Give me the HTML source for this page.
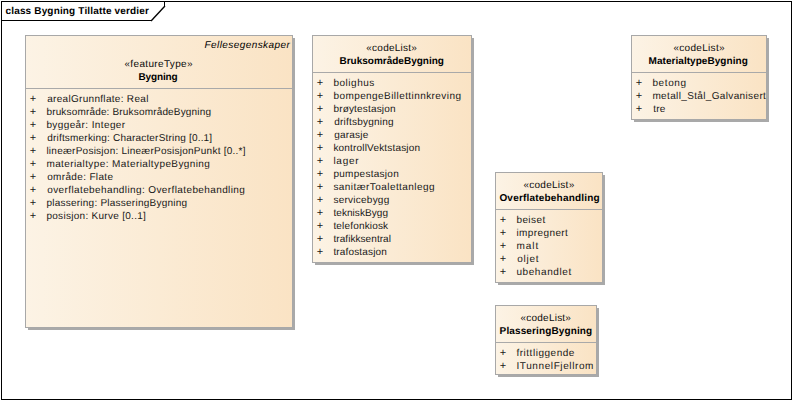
<!DOCTYPE html>
<html><head><meta charset="utf-8"><title>class Bygning Tillatte verdier</title>
<style>
html,body{margin:0;padding:0;background:#fff;}
body{width:792px;height:400px;position:relative;overflow:hidden;font-family:"Liberation Sans",sans-serif;font-size:10.00px;color:#1c1220;text-rendering:geometricPrecision;}
.abs{position:absolute;}
.frame{left:1px;top:1px;width:789px;height:397px;border:1px solid #000;}
.box{position:absolute;box-sizing:border-box;border:1px solid #a8a8a8;background:linear-gradient(to right,#fcf3e5,#fae3c4);}
.shadow{position:absolute;background:#a9a9a9;}
.sep{position:absolute;left:0;right:0;height:1px;background:#a9a9a9;}
.t{position:absolute;white-space:pre;line-height:13px;height:13px;}
.b{font-weight:bold;color:#000;}
.i{font-style:italic;color:#000;}
.r{color:#181818;}
.p{color:#181818;font-size:11px;}
.r2{color:#0a0a0a;}
svg{position:absolute;left:0;top:0;}
</style></head><body>
<div class="abs frame"></div>
<svg width="792" height="400" viewBox="0 0 792 400"><path d="M1.5 20.5 H151.5 M164.5 6.5 V1.5" fill="none" stroke="#000" stroke-width="1"/><path d="M151.5 20.5 L164.5 6.5" fill="none" stroke="#000" stroke-width="1.35" stroke-linecap="square"/></svg>

<div class="shadow" style="left:28px;top:38px;width:267px;height:292px"></div>
<div class="box" style="left:25px;top:35px;width:268px;height:293px">
<div class="sep" style="top:52px"></div>
</div>
<div class="shadow" style="left:315px;top:38px;width:159px;height:227px"></div>
<div class="box" style="left:312px;top:35px;width:160px;height:228px">
<div class="sep" style="top:36px"></div>
</div>
<div class="shadow" style="left:634px;top:38px;width:135px;height:84px"></div>
<div class="box" style="left:631px;top:35px;width:136px;height:85px">
<div class="sep" style="top:36px"></div>
</div>
<div class="shadow" style="left:498px;top:175px;width:107px;height:110px"></div>
<div class="box" style="left:495px;top:172px;width:108px;height:111px">
<div class="sep" style="top:36px"></div>
</div>
<div class="shadow" style="left:498px;top:308px;width:101px;height:69px"></div>
<div class="box" style="left:495px;top:305px;width:102px;height:70px">
<div class="sep" style="top:36px"></div>
</div>
<div id="title" class="t b" style="left:5.50px;top:5px;letter-spacing:0.160px">class Bygning Tillatte verdier</div>
<div id="b0tag" class="t i" style="left:204.50px;top:39px;letter-spacing:0.427px">Fellesegenskaper</div>
<div id="b0st" class="t r2" style="left:124.45px;top:58px;letter-spacing:0.350px">«featureType»</div>
<div id="b0name" class="t b" style="left:138.42px;top:71px;letter-spacing:-0.120px">Bygning</div>
<div id="b0p0" class="t p" style="left:29.86px;top:93px;letter-spacing:0.000px">+</div>
<div id="b0r0" class="t r" style="left:47.22px;top:93px;letter-spacing:0.304px">arealGrunnflate: Real</div>
<div id="b0p1" class="t p" style="left:29.86px;top:106px;letter-spacing:0.000px">+</div>
<div id="b0r1" class="t r" style="left:46.42px;top:106px;letter-spacing:0.169px">bruksområde: BruksområdeBygning</div>
<div id="b0p2" class="t p" style="left:29.86px;top:119px;letter-spacing:0.000px">+</div>
<div id="b0r2" class="t r" style="left:46.42px;top:119px;letter-spacing:0.392px">byggeår: Integer</div>
<div id="b0p3" class="t p" style="left:29.86px;top:132px;letter-spacing:0.000px">+</div>
<div id="b0r3" class="t r" style="left:47.22px;top:132px;letter-spacing:0.197px">driftsmerking: CharacterString [0..1]</div>
<div id="b0p4" class="t p" style="left:29.86px;top:145px;letter-spacing:0.000px">+</div>
<div id="b0r4" class="t r" style="left:46.42px;top:145px;letter-spacing:0.246px">lineærPosisjon: LineærPosisjonPunkt [0..*]</div>
<div id="b0p5" class="t p" style="left:29.86px;top:158px;letter-spacing:0.000px">+</div>
<div id="b0r5" class="t r" style="left:46.42px;top:158px;letter-spacing:0.402px">materialtype: MaterialtypeBygning</div>
<div id="b0p6" class="t p" style="left:29.86px;top:171px;letter-spacing:0.000px">+</div>
<div id="b0r6" class="t r" style="left:47.22px;top:171px;letter-spacing:0.340px">område: Flate</div>
<div id="b0p7" class="t p" style="left:29.86px;top:184px;letter-spacing:0.000px">+</div>
<div id="b0r7" class="t r" style="left:47.22px;top:184px;letter-spacing:0.392px">overflatebehandling: Overflatebehandling</div>
<div id="b0p8" class="t p" style="left:29.86px;top:197px;letter-spacing:0.000px">+</div>
<div id="b0r8" class="t r" style="left:46.42px;top:197px;letter-spacing:0.239px">plassering: PlasseringBygning</div>
<div id="b0p9" class="t p" style="left:29.86px;top:210px;letter-spacing:0.000px">+</div>
<div id="b0r9" class="t r" style="left:46.42px;top:210px;letter-spacing:0.290px">posisjon: Kurve [0..1]</div>
<div id="b1st" class="t r2" style="left:366.32px;top:42px;letter-spacing:0.231px">«codeList»</div>
<div id="b1name" class="t b" style="left:339.45px;top:55px;letter-spacing:0.000px">BruksområdeBygning</div>
<div id="b1p0" class="t p" style="left:316.86px;top:77px;letter-spacing:0.000px">+</div>
<div id="b1r0" class="t r" style="left:333.42px;top:77px;letter-spacing:0.526px">bolighus</div>
<div id="b1p1" class="t p" style="left:316.86px;top:90px;letter-spacing:0.000px">+</div>
<div id="b1r1" class="t r" style="left:333.42px;top:90px;letter-spacing:0.428px">bompengeBillettinnkreving</div>
<div id="b1p2" class="t p" style="left:316.86px;top:103px;letter-spacing:0.000px">+</div>
<div id="b1r2" class="t r" style="left:333.42px;top:103px;letter-spacing:0.173px">brøytestasjon</div>
<div id="b1p3" class="t p" style="left:316.86px;top:116px;letter-spacing:0.000px">+</div>
<div id="b1r3" class="t r" style="left:334.22px;top:116px;letter-spacing:0.223px">driftsbygning</div>
<div id="b1p4" class="t p" style="left:316.86px;top:129px;letter-spacing:0.000px">+</div>
<div id="b1r4" class="t r" style="left:334.22px;top:129px;letter-spacing:0.213px">garasje</div>
<div id="b1p5" class="t p" style="left:316.86px;top:142px;letter-spacing:0.000px">+</div>
<div id="b1r5" class="t r" style="left:333.42px;top:142px;letter-spacing:0.182px">kontrollVektstasjon</div>
<div id="b1p6" class="t p" style="left:316.86px;top:155px;letter-spacing:0.000px">+</div>
<div id="b1r6" class="t r" style="left:333.42px;top:155px;letter-spacing:0.720px">lager</div>
<div id="b1p7" class="t p" style="left:316.86px;top:168px;letter-spacing:0.000px">+</div>
<div id="b1r7" class="t r" style="left:333.42px;top:168px;letter-spacing:0.280px">pumpestasjon</div>
<div id="b1p8" class="t p" style="left:316.86px;top:181px;letter-spacing:0.000px">+</div>
<div id="b1r8" class="t r" style="left:333.42px;top:181px;letter-spacing:0.436px">sanitærToalettanlegg</div>
<div id="b1p9" class="t p" style="left:316.86px;top:194px;letter-spacing:0.000px">+</div>
<div id="b1r9" class="t r" style="left:333.42px;top:194px;letter-spacing:0.248px">servicebygg</div>
<div id="b1p10" class="t p" style="left:316.86px;top:207px;letter-spacing:0.000px">+</div>
<div id="b1r10" class="t r" style="left:333.42px;top:207px;letter-spacing:0.068px">tekniskBygg</div>
<div id="b1p11" class="t p" style="left:316.86px;top:220px;letter-spacing:0.000px">+</div>
<div id="b1r11" class="t r" style="left:333.42px;top:220px;letter-spacing:0.171px">telefonkiosk</div>
<div id="b1p12" class="t p" style="left:316.86px;top:233px;letter-spacing:0.000px">+</div>
<div id="b1r12" class="t r" style="left:333.42px;top:233px;letter-spacing:0.068px">trafikksentral</div>
<div id="b1p13" class="t p" style="left:316.86px;top:246px;letter-spacing:0.000px">+</div>
<div id="b1r13" class="t r" style="left:333.42px;top:246px;letter-spacing:0.153px">trafostasjon</div>
<div id="b2st" class="t r2" style="left:673.40px;top:42px;letter-spacing:0.311px">«codeList»</div>
<div id="b2name" class="t b" style="left:648.60px;top:55px;letter-spacing:0.044px">MaterialtypeBygning</div>
<div id="b2p0" class="t p" style="left:635.86px;top:77px;letter-spacing:0.000px">+</div>
<div id="b2r0" class="t r" style="left:652.42px;top:77px;letter-spacing:0.616px">betong</div>
<div id="b2p1" class="t p" style="left:635.86px;top:90px;letter-spacing:0.000px">+</div>
<div id="b2r1" class="t r" style="left:652.42px;top:90px;letter-spacing:0.356px">metall_Stål_Galvanisert</div>
<div id="b2p2" class="t p" style="left:635.86px;top:103px;letter-spacing:0.000px">+</div>
<div id="b2r2" class="t r" style="left:653.22px;top:103px;letter-spacing:0.240px">tre</div>
<div id="b3st" class="t r2" style="left:523.45px;top:179px;letter-spacing:0.267px">«codeList»</div>
<div id="b3name" class="t b" style="left:499.40px;top:192px;letter-spacing:0.200px">Overflatebehandling</div>
<div id="b3p0" class="t p" style="left:499.86px;top:214px;letter-spacing:0.000px">+</div>
<div id="b3r0" class="t r" style="left:516.42px;top:214px;letter-spacing:0.416px">beiset</div>
<div id="b3p1" class="t p" style="left:499.86px;top:227px;letter-spacing:0.000px">+</div>
<div id="b3r1" class="t r" style="left:516.42px;top:227px;letter-spacing:0.409px">impregnert</div>
<div id="b3p2" class="t p" style="left:499.86px;top:240px;letter-spacing:0.000px">+</div>
<div id="b3r2" class="t r" style="left:516.42px;top:240px;letter-spacing:0.960px">malt</div>
<div id="b3p3" class="t p" style="left:499.86px;top:253px;letter-spacing:0.000px">+</div>
<div id="b3r3" class="t r" style="left:517.22px;top:253px;letter-spacing:0.720px">oljet</div>
<div id="b3p4" class="t p" style="left:499.86px;top:266px;letter-spacing:0.000px">+</div>
<div id="b3r4" class="t r" style="left:516.42px;top:266px;letter-spacing:0.587px">ubehandlet</div>
<div id="b4st" class="t r2" style="left:520.55px;top:312px;letter-spacing:0.222px">«codeList»</div>
<div id="b4name" class="t b" style="left:499.60px;top:325px;letter-spacing:0.125px">PlasseringBygning</div>
<div id="b4p0" class="t p" style="left:499.86px;top:347px;letter-spacing:0.000px">+</div>
<div id="b4r0" class="t r" style="left:516.42px;top:347px;letter-spacing:0.523px">frittliggende</div>
<div id="b4p1" class="t p" style="left:499.86px;top:360px;letter-spacing:0.000px">+</div>
<div id="b4r1" class="t r" style="left:516.42px;top:360px;letter-spacing:0.606px">ITunnelFjellrom</div>
</body></html>
